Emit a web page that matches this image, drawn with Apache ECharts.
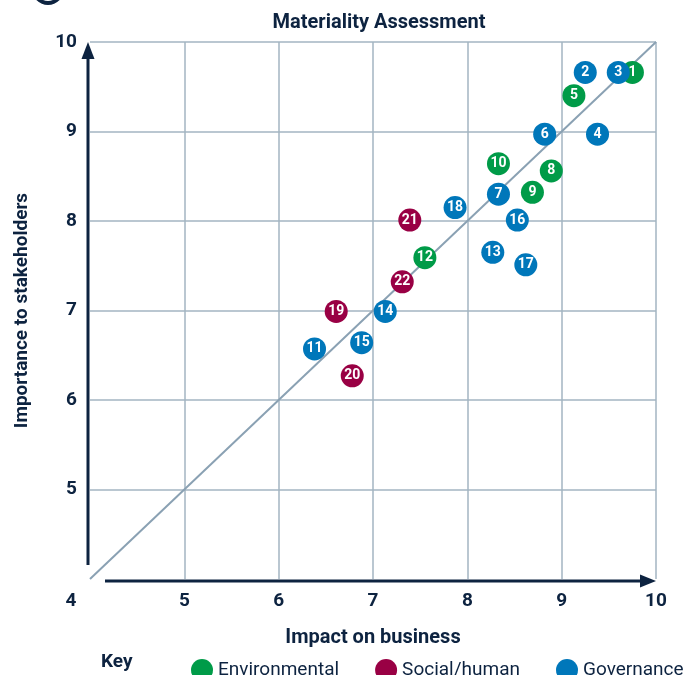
<!DOCTYPE html>
<html>
<head>
<meta charset="utf-8">
<script src="https://cdn.jsdelivr.net/npm/echarts@6/dist/echarts.min.js"></script>
<style>
  html, body { margin: 0; padding: 0; background: #fff; }
  #main { width: 689px; height: 675px; }
</style>
</head>
<body>
<div id="main"></div>
<script>
// topic numbers, impact on business (x), importance to stakeholders (y)
var envIds = [1, 5, 8, 9, 10, 12];
var envImpact = [9.75, 9.13, 8.89, 8.69, 8.33, 7.55];
var envImportance = [9.66, 9.40, 8.56, 8.32, 8.64, 7.59];

var socIds = [19, 20, 21, 22];
var socImpact = [6.61, 6.78, 7.39, 7.31];
var socImportance = [6.99, 6.27, 8.01, 7.32];

var govIds = [2, 3, 4, 6, 7, 11, 13, 14, 15, 16, 17, 18];
var govImpact = [9.25, 9.60, 9.38, 8.82, 8.33, 6.38, 8.27, 7.13, 6.88, 8.53, 8.62, 7.87];
var govImportance = [9.66, 9.66, 8.97, 8.97, 8.30, 6.57, 7.65, 6.99, 6.64, 8.01, 7.51, 8.15];

var axisTicks = [4, 5, 6, 7, 8, 9, 10];

var navy = '#0d2340';
var gridColor = '#a3b4c2';

function pts(ids, xs, ys) {
    return ids.map(function(id, i) { return [xs[i], ys[i], id]; });
}

function dotSeries(name, color, data) {
    return {
        name: name,
        type: 'scatter',
        z: 5,
        symbolSize: 23,
        itemStyle: { color: color, opacity: 1 },
        label: {
            show: true,
            position: 'inside',
            color: '#fff',
            fontFamily: 'Roboto',
            fontWeight: 'bold',
            fontSize: 14,
            formatter: function(p) { return p.value[2]; }
        },
        emphasis: { disabled: true },
        data: data
    };
}

var chart = echarts.init(document.getElementById('main'));
var option = {
    animation: false,
    textStyle: { fontFamily: 'Roboto' },
    title: {
        text: 'Materiality Assessment',
        left: 374,
        top: 8,
        textAlign: 'center',
        textStyle: { color: navy, fontSize: 20, fontWeight: 'bold', fontFamily: 'Roboto' }
    },
    legend: {
        data: ['Environmental', 'Social/human', 'Governance'],
        left: 186,
        top: 654,
        width: 800,
        icon: 'circle',
        itemWidth: 22,
        itemHeight: 22,
        itemGap: 36,
        textStyle: { color: navy, fontSize: 19, fontFamily: 'Roboto' }
    },
    grid: { left: 90, right: 33, top: 42, bottom: 96 },
    xAxis: {
        type: 'value',
        min: 4, max: 10, interval: 1,
        name: 'Impact on business',
        nameLocation: 'middle',
        nameGap: 49,
        nameTextStyle: { color: navy, fontSize: 20, fontWeight: 'bold' },
        axisLine: { show: false },
        axisTick: { show: false },
        axisLabel: {
            margin: 13,
            color: navy, fontSize: 19, fontWeight: 'bold',
            formatter: function(v) { return v === axisTicks[0] ? '{c|' + v + '}' : v; },
            rich: { c: { color: navy, fontSize: 19, fontWeight: 'bold', padding: [0, 38, 0, 0] } }
        },
        splitLine: { lineStyle: { color: ['rgba(0,0,0,0)', gridColor, gridColor, gridColor, gridColor, gridColor, gridColor], width: 1.5 } }
    },
    yAxis: {
        type: 'value',
        min: 4, max: 10, interval: 1,
        name: 'Importance to stakeholders',
        nameLocation: 'middle',
        nameGap: 58,
        nameTextStyle: { color: navy, fontSize: 19, fontWeight: 'bold' },
        axisLine: { show: false },
        axisTick: { show: false },
        axisLabel: {
            margin: 13,
            color: navy, fontSize: 19, fontWeight: 'bold',
            formatter: function(v) { return v === axisTicks[0] ? '' : v; }
        },
        splitLine: { lineStyle: { color: ['rgba(0,0,0,0)', gridColor, gridColor, gridColor, gridColor, gridColor, gridColor], width: 1.5 } }
    },
    series: [
        {
            name: 'diagonal',
            type: 'line',
            z: 1,
            symbol: 'none',
            silent: true,
            lineStyle: { color: '#8aa1b3', width: 2 },
            data: [[axisTicks[0], axisTicks[0]], [axisTicks[6], axisTicks[6]]]
        },
        dotSeries('Environmental', '#009b48', pts(envIds, envImpact, envImportance)),
        dotSeries('Social/human', '#990044', pts(socIds, socImpact, socImportance)),
        dotSeries('Governance', '#0077ba', pts(govIds, govImpact, govImportance))
    ]
};
chart.setOption(option);

// axis arrows, placed from the axis scales
var lo = chart.convertToPixel({ gridIndex: 0 }, [4, 4]);
var hi = chart.convertToPixel({ gridIndex: 0 }, [10, 10]);
var ay = lo[1] + 2, ax = lo[0] - 2;
chart.setOption({
    graphic: [
        { type: 'line', shape: { x1: lo[0] + 15, y1: ay, x2: hi[0] - 12, y2: ay }, style: { stroke: navy, lineWidth: 3 } },
        { type: 'polygon', shape: { points: [[hi[0], ay], [hi[0] - 16, ay - 6.5], [hi[0] - 16, ay + 6.5]] }, style: { fill: navy } },
        { type: 'line', shape: { x1: ax, y1: lo[1] - 14, x2: ax, y2: hi[1] + 12 }, style: { stroke: navy, lineWidth: 3 } },
        { type: 'polygon', shape: { points: [[ax, hi[1]], [ax - 6.5, hi[1] + 17], [ax + 6.5, hi[1] + 17]] }, style: { fill: navy } },
        { type: 'text', left: 101, top: 653, style: { text: 'Key', fill: navy, font: 'bold 19px Roboto' } },
        { type: 'circle', shape: { cx: 48, cy: -11, r: 14 }, style: { fill: 'none', stroke: navy, lineWidth: 4 } }
    ]
});
</script>
</body>
</html>
